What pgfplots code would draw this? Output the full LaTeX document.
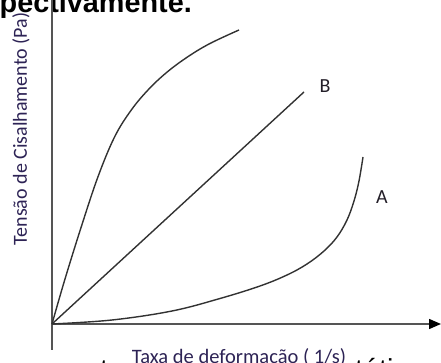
\documentclass[border=0pt]{standalone}
\usepackage{fontspec}
\setmainfont{Carlito}
\newfontfamily\docfont{Liberation Sans}
\usepackage{pgfplots}
\pgfplotsset{compat=1.18}
\usetikzlibrary{arrows.meta}
\definecolor{labelc}{RGB}{45,35,85}
\definecolor{letterc}{RGB}{35,30,40}
\definecolor{curvec}{RGB}{50,50,50}
\definecolor{axisc}{RGB}{85,85,85}
\begin{document}
\begin{tikzpicture}
\useasboundingbox (0,0) rectangle (441pt,363pt);
\clip (0,0) rectangle (441pt,363pt);
% text of the page around the figure
\node[anchor=base east, inner sep=0, font=\docfont\bfseries\fontsize{28.8}{30}\selectfont] at (192pt,350.3pt) {respectivamente.};
\node[anchor=base west, inner sep=0, font=\docfont\fontsize{28.8}{30}\selectfont] at (100pt,-17pt) {t};
\node[anchor=base west, inner sep=0, font=\docfont\fontsize{28.8}{30}\selectfont] at (355pt,-17pt) {tática};
\begin{axis}[
    at={(52pt,39pt)}, anchor=origin,
    x=1pt, y=1pt,
    xmin=0, xmax=389, ymin=-26, ymax=330,
    axis lines*=middle,
    axis line style={axisc, line width=1.5pt},
    x axis line style={-{Triangle[length=12pt,width=10pt,black]}},
    xtick=\empty, ytick=\empty,
    clip=false,
]
% upper curve (shear thinning)
\addplot[curvec, line width=1.4pt, smooth, tension=0.6] coordinates {
    (0,0) (12.7,44) (29.3,97.3) (46,147.3) (62.7,187.3) (79.3,214)
    (96,234) (114,251) (134,266) (157,280) (187,294)};
% B: Newtonian
\addplot[curvec, line width=1.4pt] coordinates {(0,0) (252,232)};
% A: shear thickening
\addplot[curvec, line width=1.4pt, smooth, tension=0.6] coordinates {
    (0,0) (60,4) (120,13) (168,25.5) (208,38) (235,49) (255,60)
    (272,73) (285,87) (295,104) (302,123) (307,143) (311,167)};
\node[letterc, font=\fontsize{20}{24}\selectfont] at (axis cs:273,238) {B};
\node[letterc, font=\fontsize{20}{24}\selectfont] at (axis cs:330,127) {A};
\node[labelc, font=\fontsize{20}{24}\selectfont, anchor=base, rotate=90] at (axis cs:-25,195) {Tensão de Cisalhamento (Pa)};
\node[labelc, font=\fontsize{20.5}{24}\selectfont, anchor=base] at (axis cs:187,-39.5) {Taxa de deformação ( 1/s)};
\end{axis}
\end{tikzpicture}
\end{document}
